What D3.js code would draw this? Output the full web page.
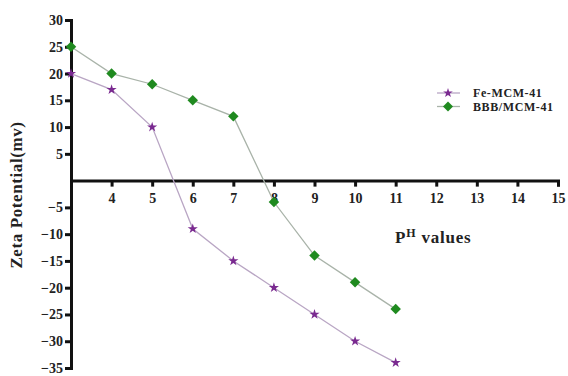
<!DOCTYPE html>
<html>
<head>
<meta charset="utf-8">
<script src="https://cdn.jsdelivr.net/npm/d3@7"></script>
<style>
  html, body { margin: 0; padding: 0; background: #fff; }
  svg { display: block; }
  text { font-family: "Liberation Serif", "Times New Roman", serif; font-weight: bold; fill: #222; }
</style>
</head>
<body>
<svg id="chart" width="568" height="376"></svg>
<script>
// pH values measured
const phValues = [3, 4, 5, 6, 7, 8, 9, 10, 11];
// Zeta potential (mV) for each material
const feMcm41 = [20, 17, 10, -9, -15, -20, -25, -30, -34];
const bbbMcm41 = [25, 20, 18, 15, 12, -4, -14, -19, -24];
// Axis ticks
const xTicks = [4, 5, 6, 7, 8, 9, 10, 11, 12, 13, 14, 15];
const yTicks = [30, 25, 20, 15, 10, 5, -5, -10, -15, -20, -25, -30, -35];

const svg = d3.select("#chart");

const x = d3.scaleLinear().domain([3, 15]).range([71, 558]);
const y = d3.scaleLinear().domain([-35, 30]).range([368, 20]);

// Y axis (left edge at pH 3)
const yAxis = svg.append("g")
  .attr("transform", `translate(${x(3)},0)`)
  .call(d3.axisLeft(y).tickValues(yTicks).tickSize(6).tickPadding(2).tickFormat(d3.format("d")));
yAxis.select(".domain").attr("stroke", "#111").attr("stroke-width", 3);
yAxis.selectAll(".tick line").attr("stroke", "#111").attr("stroke-width", 3);
yAxis.selectAll(".tick text").attr("font-size", 14).attr("font-family", "Liberation Serif").attr("font-weight", "bold").attr("fill", "#333");

// X axis crossing at zero
const xAxis = svg.append("g")
  .attr("transform", `translate(0,${y(0)})`)
  .call(d3.axisBottom(x).tickValues(xTicks).tickSize(6).tickPadding(6).tickFormat(d3.format("d")));
xAxis.select(".domain").attr("stroke", "#111").attr("stroke-width", 3);
xAxis.selectAll(".tick line").attr("stroke", "#111").attr("stroke-width", 3);
xAxis.selectAll(".tick text").attr("font-size", 14).attr("font-family", "Liberation Serif").attr("font-weight", "bold").attr("fill", "#333");

// Axis titles
svg.append("text")
  .attr("transform", `translate(22,195) rotate(-90)`)
  .attr("text-anchor", "middle")
  .attr("font-size", 17)
  .attr("letter-spacing", 0.6)
  .attr("fill", "#333")
  .text("Zeta Potential(mv)");

const xt = svg.append("text")
  .attr("x", 395).attr("y", 243)
  .attr("font-size", 17)
  .attr("letter-spacing", 0.8)
  .attr("fill", "#333");
xt.append("tspan").text("P");
xt.append("tspan").attr("font-size", 12).attr("dy", -6).text("H");
xt.append("tspan").attr("dy", 6).text(" values");

const series = [
  { name: "Fe-MCM-41", values: feMcm41, line: "#b9a6c4", marker: "#7a2a90", symbol: d3.symbolStar, size: 32 },
  { name: "BBB/MCM-41", values: bbbMcm41, line: "#a9b3a9", marker: "#1f8a1f", symbol: d3.symbolDiamond2, size: 70 }
];

const line = d3.line().x(d => x(d[0])).y(d => y(d[1]));

series.forEach(s => {
  const pts = phValues.map((p, i) => [p, s.values[i]]);
  svg.append("path")
    .datum(pts)
    .attr("fill", "none")
    .attr("stroke", s.line)
    .attr("stroke-width", 1.3)
    .attr("d", line);
  svg.append("g").selectAll("path")
    .data(pts)
    .join("path")
    .attr("transform", d => `translate(${x(d[0])},${y(d[1])})`)
    .attr("d", d3.symbol().type(s.symbol).size(s.size))
    .attr("fill", s.marker);
});

// Legend
const legend = svg.append("g").attr("transform", "translate(437,93)");
series.forEach((s, i) => {
  const g = legend.append("g").attr("transform", `translate(0,${i * 13.5})`);
  g.append("line").attr("x1", 0).attr("x2", 23).attr("y1", 0).attr("y2", 0)
    .attr("stroke", s.line).attr("stroke-width", 1.3);
  g.append("path").attr("transform", "translate(11,0)")
    .attr("d", d3.symbol().type(s.symbol).size(s.size * 0.9))
    .attr("fill", s.marker);
  g.append("text").attr("x", 36).attr("y", 4)
    .attr("font-size", 12)
    .attr("letter-spacing", 0.6)
    .attr("fill", "#444")
    .text(s.name);
});
</script>
</body>
</html>
